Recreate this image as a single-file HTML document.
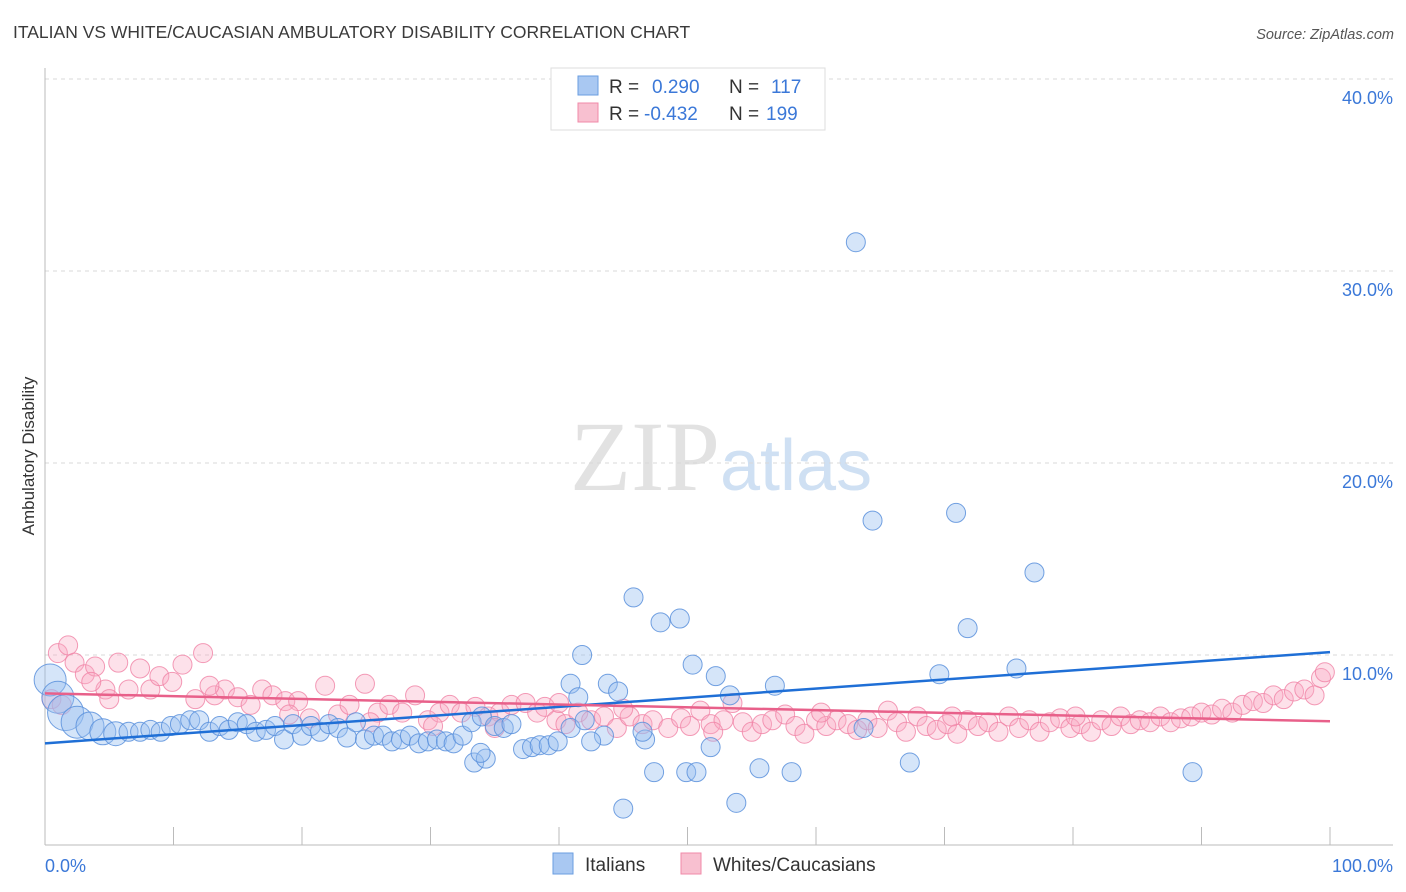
<!DOCTYPE html>
<html><head><meta charset="utf-8"><style>
body{margin:0;background:#fff;font-family:"Liberation Sans",sans-serif}
svg{display:block}
</style></head><body>
<svg id="c" width="1406" height="892" xmlns="http://www.w3.org/2000/svg">
<text x="13" y="38" font-size="17.5" fill="#3a3a3a">ITALIAN VS WHITE/CAUCASIAN AMBULATORY DISABILITY CORRELATION CHART</text>
<text x="1394" y="39" font-size="14.5" font-style="italic" fill="#555" text-anchor="end">Source: ZipAtlas.com</text>
<text x="720" y="490" font-size="100" font-family="Liberation Serif,serif" fill="#e2e2e2" text-anchor="end">ZIP</text>
<text x="720" y="490" font-size="72" fill="#cfe0f3">atlas</text>
<g id="grid"></g>
<g id="axes"></g>
<g id="pts"></g>
<g id="trend"></g>
<text transform="translate(34,456) rotate(-90)" font-size="17" fill="#333" text-anchor="middle">Ambulatory Disability</text>
<g>
<rect x="551" y="68" width="274" height="62" fill="#fff" stroke="#ddd"/>
<rect x="578" y="76" width="20" height="19" fill="#a9c8f2" stroke="#6a9ee0"/>
<rect x="578" y="103" width="20" height="19" fill="#f8c0d0" stroke="#f08aa8"/>
<text x="609" y="93" font-size="19" fill="#333">R = </text><text x="652" y="93" font-size="19" fill="#3b78d8">0.290</text>
<text x="729" y="93" font-size="19" fill="#333">N = </text><text x="771" y="93" font-size="19" fill="#3b78d8">117</text>
<text x="609" y="120" font-size="19" fill="#333">R = </text><text x="644" y="120" font-size="19" fill="#3b78d8">-0.432</text>
<text x="729" y="120" font-size="19" fill="#333">N = </text><text x="766" y="120" font-size="19" fill="#3b78d8">199</text>
</g>
<g>
<rect x="553" y="853" width="20" height="21" fill="#a9c8f2" stroke="#6a9ee0"/>
<text x="585" y="871" font-size="19" fill="#333">Italians</text>
<rect x="681" y="853" width="20" height="21" fill="#f8c0d0" stroke="#f08aa8"/>
<text x="713" y="871" font-size="19" fill="#333">Whites/Caucasians</text>
</g>
</svg>
<script>
const yTicks=[10,20,30,40];
const yTickLabels=["10.0%","20.0%","30.0%","40.0%"];
const xTickLabels=["0.0%","100.0%"];
const blueX=[0.4,1.0,1.6,2.5,3.5,4.5,5.5,6.5,7.4,8.2,9.0,9.8,10.5,11.3,12.0,12.8,13.6,14.3,15.0,15.7,16.4,17.2,17.9,18.6,19.3,20.0,20.7,21.4,22.1,22.8,23.5,24.2,24.9,25.6,26.3,27.0,27.7,28.4,29.1,29.8,30.5,31.2,31.8,32.5,33.2,34.0,35.0,35.7,36.3,37.2,37.9,38.5,39.2,39.9,63.1,64.4,70.9,77.0,71.8,45.8,47.9,49.4,41.8,50.4,52.2,43.8,40.9,44.6,41.5,53.3,56.8,69.6,75.6,67.3,89.3,45.0,53.8,47.4,49.9,50.7,55.6,58.1,51.8,46.7,46.5,43.5,42.5,40.9,42.0,63.7,33.4,34.3,33.9];
const blueY=[8.7,7.8,7.0,6.5,6.3,6.0,5.9,6.0,6.0,6.1,6.0,6.3,6.4,6.6,6.6,6.0,6.3,6.1,6.5,6.4,6.0,6.1,6.3,5.6,6.4,5.8,6.3,6.0,6.4,6.2,5.7,6.5,5.6,5.8,5.8,5.5,5.6,5.8,5.4,5.5,5.6,5.5,5.4,5.8,6.5,6.8,6.3,6.2,6.4,5.1,5.2,5.3,5.3,5.5,31.5,17.0,17.4,14.3,11.4,13.0,11.7,11.9,10.0,9.5,8.9,8.5,8.5,8.1,7.8,7.9,8.4,9.0,9.3,4.4,3.9,2.0,2.3,3.9,3.9,3.9,4.1,3.9,5.2,5.6,6.0,5.8,5.5,6.2,6.6,6.2,4.4,4.6,4.9];
const blueR=[16,16,18,16,14,13,12];
const pinkX=[1.0,1.8,2.3,3.1,3.9,4.7,5.7,6.5,7.4,8.2,8.9,9.9,10.7,11.7,12.3,13.2,14.0,15.0,16.0,16.9,17.7,18.7,19.7,20.6,21.8,22.8,23.7,24.9,25.9,26.8,27.8,28.8,29.8,30.7,31.5,32.4,33.5,34.5,35.4,36.3,37.4,38.3,38.9,39.8,40.5,41.5,42.5,43.5,44.5,45.5,46.5,47.3,48.5,49.5,50.2,51.0,51.8,52.8,53.5,54.3,55.0,55.8,56.6,57.6,58.4,59.1,60.0,60.8,61.6,62.5,63.2,64.0,64.8,65.6,66.3,67.0,67.9,68.6,69.4,70.2,71.0,71.8,72.6,73.4,74.2,75.0,75.8,76.6,77.4,78.2,79.0,79.8,80.6,81.4,82.2,83.0,83.7,84.5,85.2,86.0,86.8,87.6,88.4,89.2,90.0,90.8,91.6,92.4,93.2,94.0,94.8,95.6,96.4,97.2,98.0,98.8,99.3,99.6,35.0,45.0,60.4,70.6,80.2,52.0,40.0,30.2,25.3,19.0,12.8,5.0,3.6,0.5,1.3];
const pinkY=[10.1,10.5,9.6,9.0,9.4,8.2,9.6,8.2,9.3,8.2,8.9,8.6,9.5,7.7,10.1,7.9,8.2,7.8,7.4,8.2,7.9,7.6,7.6,6.7,8.4,6.9,7.4,8.5,7.0,7.4,7.0,7.9,6.6,7.0,7.4,7.0,7.3,6.8,7.0,7.4,7.5,7.0,7.3,6.6,6.4,7.0,6.6,6.8,6.2,6.8,6.4,6.6,6.2,6.7,6.3,7.1,6.4,6.6,7.5,6.5,6.0,6.4,6.6,6.9,6.3,5.9,6.6,6.3,6.6,6.4,6.1,6.6,6.2,7.1,6.5,6.0,6.8,6.3,6.1,6.4,5.9,6.6,6.3,6.5,6.0,6.8,6.2,6.6,6.0,6.5,6.7,6.2,6.4,6.0,6.6,6.3,6.8,6.4,6.6,6.5,6.8,6.5,6.7,6.8,7.0,6.9,7.2,7.0,7.4,7.6,7.5,7.9,7.7,8.1,8.2,7.9,8.8,9.1,6.2,7.2,7.0,6.8,6.8,6.0,7.5,6.3,6.5,6.9,8.4,7.7,8.6,7.7,7.4];
const blueTrend=[5.4,10.15];
const pinkTrend=[8.0,6.55];
const NS="http://www.w3.org/2000/svg";
const X0=45,X1=1330,Y0=847,PPU=19.2;
const sx=v=>X0+(X1-X0)*v/100;
const sy=v=>Y0-v*PPU;
function mk(t,a,p){const e=document.createElementNS(NS,t);for(const k in a)e.setAttribute(k,a[k]);p.appendChild(e);return e;}
const grid=document.getElementById('grid');
yTicks.forEach((v,i)=>{
 const l=mk('line',{x1:45,x2:1393,y1:sy(v),y2:sy(v),stroke:'#d8d8d8','stroke-dasharray':'4,4'},grid);
 
 
 const t=mk('text',{x:1393,y:sy(v)+25,'font-size':18,fill:'#3b78d8','text-anchor':'end'},grid);
 t.textContent=yTickLabels[i];
 
 
});
const ax=document.getElementById('axes');
mk('line',{x1:45,x2:45,y1:68,y2:845,stroke:'#bbb'},ax);
mk('line',{x1:45,x2:1393,y1:845,y2:845,stroke:'#bbb'},ax);
for(let i=0;i<=10;i++){const t=mk('line',{x1:sx(i*10),x2:sx(i*10),y1:827,y2:845,stroke:'#bbb'},ax);
 
 }
const xl0=mk('text',{x:45,y:872,'font-size':18,fill:'#3b78d8'},ax);xl0.textContent=xTickLabels[0];


const xl1=mk('text',{x:1393,y:872,'font-size':18,fill:'#3b78d8','text-anchor':'end'},ax);xl1.textContent=xTickLabels[1];


const pts=document.getElementById('pts');
pinkX.forEach((x,i)=>{const c=mk('circle',{cx:sx(x),cy:sy(pinkY[i]),r:9.5,fill:'rgba(248,170,195,0.35)',stroke:'rgba(240,130,165,0.8)','stroke-width':1},pts);
 
 });
blueX.forEach((x,i)=>{const c=mk('circle',{cx:sx(x),cy:sy(blueY[i]),r:blueR[i]||9.5,fill:'rgba(150,190,240,0.4)',stroke:'rgba(90,145,220,0.85)','stroke-width':1},pts);
 
 });
const tr=document.getElementById('trend');
const tb=mk('line',{x1:sx(0),x2:sx(100),y1:sy(blueTrend[0]),y2:sy(blueTrend[1]),stroke:'#1f6fd6','stroke-width':2.5},tr);


const tp=mk('line',{x1:sx(0),x2:sx(100),y1:sy(pinkTrend[0]),y2:sy(pinkTrend[1]),stroke:'#e8608a','stroke-width':2.5},tr);


</script>
</body></html>
